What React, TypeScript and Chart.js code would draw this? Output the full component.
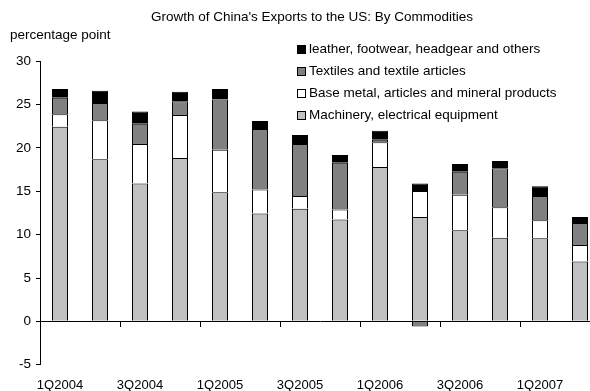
import React, { useEffect, useRef } from 'react';
import { Chart, registerables } from 'chart.js';

Chart.register(...registerables);

const TITLE = "Growth of China's Exports to the US: By Commodities";
const Y_LABEL = 'percentage point';

const categories = [
  '1Q2004', '2Q2004', '3Q2004', '4Q2004',
  '1Q2005', '2Q2005', '3Q2005', '4Q2005',
  '1Q2006', '2Q2006', '3Q2006', '4Q2006',
  '1Q2007', '2Q2007',
];

const seriesNames = [
  'Machinery, electrical equipment',
  'Base metal, articles and mineral products',
  'Textiles and textile articles',
  'leather, footwear, headgear and others',
];

const machinery = [22.45, 18.7, 15.9, 18.85, 14.9, 12.45, 13.0, 11.75, 17.8, 12.05, 10.5, 9.65, 9.6, 6.9];
const baseMetal = [1.45, 4.5, 4.55, 4.95, 4.9, 2.75, 1.45, 1.15, 2.85, 3.0, 4.1, 3.5, 2.05, 1.9];
const textiles = [1.9, 2.0, 2.35, 1.6, 5.8, 7.0, 6.0, 5.4, 0.3, -0.6, 2.67, 4.5, 2.8, 2.55];
const leather = [1.0, 1.4, 1.4, 1.1, 1.2, 0.9, 1.05, 0.9, 1.05, 0.85, 0.88, 0.85, 1.15, 0.7];

const seriesColors = ['#c0c0c0', '#ffffff', '#808080', '#000000'];

const Y_MIN = -5;
const Y_MAX = 30;
const Y_STEP = 5;

const FONT_FAMILY = '"Liberation Sans", Arial, Helvetica, sans-serif';

const overlayPlugin = {
  id: 'overlay',
  afterDraw(chart: any) {
    const ctx = chart.ctx as CanvasRenderingContext2D;
    ctx.save();
    ctx.fillStyle = '#000';
    ctx.textBaseline = 'middle';
    ctx.font = `13.5px ${FONT_FAMILY}`;
    ctx.textAlign = 'center';
    ctx.fillText(TITLE, 312, 17);
    ctx.textAlign = 'left';
    ctx.fillText(Y_LABEL, 10, 35);

    // legend (reversed order, top = last dataset)
    const ds = chart.data.datasets;
    for (let i = 0; i < ds.length; i++) {
      const d = ds[ds.length - 1 - i];
      const cy = 49.5 + 22 * i;
      ctx.fillStyle = d.backgroundColor as string;
      ctx.fillRect(297, cy - 4.5, 9, 9);
      ctx.strokeStyle = '#000';
      ctx.lineWidth = 1;
      ctx.strokeRect(297.5, cy - 4, 8, 8);
      ctx.fillStyle = '#000';
      ctx.fillText(d.label, 309, cy);
    }
    ctx.restore();
  },
};

export default function App() {
  const canvasRef = useRef<HTMLCanvasElement | null>(null);

  useEffect(() => {
    if (!canvasRef.current) return;
    Chart.defaults.font.family = FONT_FAMILY;
    Chart.defaults.color = '#000';
    const values = [machinery, baseMetal, textiles, leather];
    const chart = new Chart(canvasRef.current, {
      type: 'bar',
      data: {
        labels: categories,
        datasets: values.map((v, i) => ({
          label: seriesNames[i],
          data: v,
          backgroundColor: seriesColors[i],
          borderColor: '#000',
          borderWidth: 1,
          inflateAmount: 0,
          barPercentage: 0.4,
          categoryPercentage: 1,
        })),
      },
      options: {
        animation: false,
        responsive: false,
        devicePixelRatio: 1,
        layout: { padding: { top: 61.3, left: 0, right: 0, bottom: 0 } },
        plugins: {
          legend: { display: false },
          title: { display: false },
          tooltip: { enabled: false },
        },
        scales: {
          x: {
            type: 'category',
            stacked: true,
            position: { y: 0 } as any,
            offset: true,
            grid: {
              offset: true,
              drawOnChartArea: false,
              drawTicks: true,
              tickLength: 5,
              color: (c: any) => (typeof c.index === 'number' && c.index % 2 === 0 ? '#000' : 'rgba(0,0,0,0)'),
            },
            border: { display: true, color: '#000', width: 1 },
            ticks: { display: false },
          },
          x2: {
            type: 'category',
            position: 'bottom',
            offset: true,
            grid: { display: false, drawTicks: false },
            border: { display: false },
            ticks: {
              autoSkip: false,
              maxRotation: 0,
              padding: 12.5,
              font: { size: 13 },
              color: '#000',
              callback: (_v: any, i: number) => (i % 2 === 0 ? categories[i] : ''),
            },
            afterFit: (s: any) => {
              s.height = 26.3;
            },
          },
          y: {
            stacked: true,
            min: Y_MIN,
            max: Y_MAX,
            ticks: { stepSize: Y_STEP, padding: 5, font: { size: 13.5 }, color: '#000' },
            grid: { drawOnChartArea: false, drawTicks: true, tickLength: 4, color: '#000' },
            border: { display: true, color: '#000', width: 1 },
            afterFit: (s: any) => {
              s.width = 40;
            },
          },
        },
      },
      plugins: [overlayPlugin],
    });
    return () => chart.destroy();
  }, []);

  return (
    <div style={{ position: 'fixed', left: 0, top: 0, width: 590, height: 391, overflow: 'hidden', background: '#fff' }}>
      <canvas ref={canvasRef} width={600} height={391} style={{ display: 'block' }} />
    </div>
  );
}
